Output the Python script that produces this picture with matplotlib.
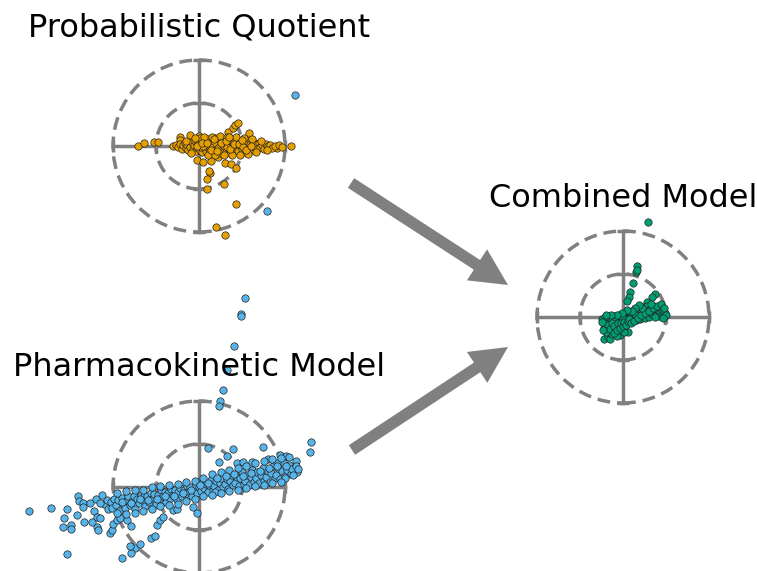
import matplotlib
matplotlib.use("Agg")
import matplotlib.pyplot as plt
from matplotlib.patches import Circle, FancyArrow

# ---------------- data ----------------
pq_x = [-1.43, -1.29, -1.04, -0.96, -0.60, -0.44, -0.44, -0.20, 0.01, 0.67, 0.80, 0.84, 0.91, 1.17,
        2.15, 1.81, -0.05, 0.10, 0.28, 0.45, 0.61, 0.74, 0.85, 0.26, 0.24, 0.19, 0.19, 0.58, 0.87, 0.39, 0.60,
        -0.53, -0.48, -0.45, -0.40, -0.38, -0.33, -0.30, -0.28, -0.25, -0.22, -0.20, -0.17, -0.15, -0.12,
        -0.10, -0.08, -0.05, -0.03, 0.00, 0.02, 0.05, 0.07, 0.08, 0.10, 0.12, 0.15, 0.17, 0.20, 0.22, 0.24,
        0.27, 0.30, 0.32, 0.35, 0.37, 0.40, 0.42, 0.45, 0.47, 0.50, 0.53, 0.55, 0.58, 0.60, 0.63, 0.65,
        0.68, 0.70, 0.73, 0.75, 0.78, 0.80, 0.83, 0.86, 0.88, 0.91, 0.94, 0.97, 1.00, 1.03, 1.06, 1.09,
        1.12, 1.15, 1.18, 1.22, 1.25, 1.28, 1.32, 1.35, 1.39, 1.43, 1.47, 1.51, 1.55, 1.60, 1.65, 1.70,
        1.76, 1.86, 1.92, 0.05, 0.15, 0.25, 0.35, 0.45, 0.55, 0.65, 0.25, 0.10, -0.05,
        0.02, 0.12, 0.20, 0.30, 0.38, 0.48, 0.57, 0.66, 0.76, 0.85, 0.95, 1.05, 1.14, 1.24, 1.33, 1.45,
        1.58, -0.10, -0.18, -0.30, 0.06, 0.18, 0.28, 0.42, 0.52, 0.62, 0.72, 0.82, 0.92, 1.02, 1.10, 1.20,
        0.34, 0.70, 1.00]
pq_y = [0.00, 0.06, 0.09, 0.10, 0.01, 0.20, 0.15, 0.26, 0.23, 0.33, 0.41, 0.49, 0.54, 0.31,
        0.00, -0.05, -0.33, -0.38, -0.36, -0.26, -0.39, -0.43, -0.50, -0.63, -0.58, -0.76, -0.99, -0.88, -1.36, -1.88, -2.07,
        0.02, -0.03, 0.05, -0.06, 0.02, 0.08, -0.04, 0.03, -0.10, 0.06, -0.02, 0.10, -0.07, 0.02,
        0.12, -0.12, 0.05, -0.04, 0.09, -0.09, 0.01, 0.14, -0.15, 0.05, -0.05, 0.10, -0.11, 0.02, 0.16, -0.08,
        0.07, -0.15, 0.12, -0.02, 0.18, -0.10, 0.05, 0.14, -0.17, 0.00, 0.10, -0.09, 0.17, 0.03, -0.13, 0.08,
        -0.04, 0.13, -0.16, 0.02, 0.09, -0.08, 0.15, -0.02, 0.06, -0.12, 0.10, 0.00, -0.08, 0.07, -0.15, 0.03,
        0.12, -0.05, 0.05, -0.10, 0.09, -0.02, 0.04, -0.08, 0.06, -0.03, 0.02, -0.06, 0.05, -0.01, 0.03, -0.04,
        0.01, 0.02, -0.02, -0.02, 0.00, 0.01, 0.06, -0.05, 0.02, -0.03, -0.03, -0.01, 0.00,
        0.18, 0.20, -0.20, 0.22, -0.22, 0.24, -0.20, 0.22, -0.22, 0.20, -0.20, 0.18, -0.18, 0.16, -0.14, 0.12,
        -0.10, 0.18, -0.16, 0.12, 0.08, 0.06, -0.10, -0.12, 0.06, 0.12, -0.08, 0.04, 0.05, -0.03, -0.10, 0.00,
        0.16, 0.20, 0.14]

pk_x = [-2.20, -2.15, -2.12, -2.05, -2.02, -1.98, -1.92, -1.88, -1.85, -1.80, -1.76, -1.72,
        -1.68, -1.64, -1.60, -1.55, -1.52, -1.48, -1.44, -1.40, -1.36, -1.32, -1.28, -1.25,
        -1.20, -1.16, -1.12, -1.08, -1.04, -1.00, -0.96, -0.92, -0.88, -0.84, -0.80, -0.76,
        -0.72, -0.68, -0.64, -0.60, -0.56, -0.52, -0.48, -0.44, -0.40, -0.36, -0.32, -0.28,
        -0.24, -0.20, -0.16, -0.12, -0.08, -0.04, 0.00, 0.04, 0.08, 0.12, 0.16, 0.20,
        0.24, 0.28, 0.32, 0.36, 0.40, 0.44, 0.48, 0.52, 0.56, 0.60, 0.64, 0.68,
        0.72, 0.76, 0.80, 0.84, 0.88, 0.92, 0.96, 1.00, 1.04, 1.08, 1.12, 1.16,
        1.20, 1.24, 1.28, 1.32, 1.36, 1.40, 1.44, 1.48, 1.52, 1.56, 1.60, 1.64,
        1.68, 1.72, 1.76, 1.80, 1.84, 1.88, 1.92, 1.96, 2.00, 2.05, 2.10, 2.15,
        2.20, 2.25, 2.28,
        0.22, 0.80, 0.47, 0.66, 1.48, 1.88, 2.02, 1.61, 1.81, 2.16, 2.19, 2.00, 0.88, 1.03, 1.23,
        2.60, 2.58, 0.37,
        -3.95, -3.44, -3.08, -3.13, -3.16, -2.98, -2.98, -2.84, -2.81, -2.78, -2.69, -2.69, -2.67,
        -2.53, -2.49, -2.44, -2.37, -2.30, -2.37, -2.34, -2.26, -2.40, -2.30, -3.06, -2.07, -2.03,
        -1.99, -1.80, -1.91, -1.84, -1.67, -1.58, -1.49, -1.57, -1.60, -1.37, -1.12, -1.02, -0.98,
        -0.91, -0.83, -0.60, -0.52, -0.13, -0.05,
        1.08, 0.98, 0.97, 0.81, 0.66, 0.55, 0.49, 0.46, 2.24, 1.57,
        -1.90, -1.70, -1.50, -1.30, -1.10, -0.90, -0.70, -0.50, -0.30, -0.10, 0.10, 0.30, 0.50, 0.70,
        0.90, 1.10, 1.30, 1.50, 1.70, 1.90,
        -1.90, -1.70, -1.50, -1.30, -1.10, -0.90, -0.70, -0.50, -0.30, -0.10, 0.10, 0.30, 0.50, 0.70,
        0.90, 1.10, 1.30, 1.50, 1.70, 1.90, 2.10, 2.25, 2.30,
        -1.78, -1.58, -1.38, -1.18, -0.98, -0.78, -0.58, -0.38, -0.18, 0.02, 0.22, 0.42, 0.62, 0.82,
        1.02, 1.22, 1.42, 1.62, 1.82, 2.02]
pk_y = [-0.40, -0.30, -0.52, -0.35, -0.48, -0.28, -0.42, -0.30, -0.55, -0.25, -0.40, -0.48,
        -0.30, -0.20, -0.42, -0.33, -0.22, -0.50, -0.27, -0.38, -0.18, -0.30, -0.20, -0.45,
        -0.22, -0.35, -0.14, -0.26, -0.16, -0.40, -0.18, -0.28, -0.08, -0.22, -0.12, -0.35,
        -0.14, -0.25, -0.05, -0.18, -0.08, -0.30, -0.12, -0.02, -0.22, -0.06, -0.16, 0.02,
        -0.10, -0.01, -0.20, -0.06, 0.04, -0.14, 0.00, -0.10, 0.10, -0.03, 0.08, -0.12,
        0.05, 0.16, -0.06, 0.02, 0.14, -0.08, 0.10, 0.22, 0.00, 0.06, 0.18, -0.04,
        0.15, 0.28, 0.05, 0.10, 0.24, 0.02, 0.20, 0.34, 0.08, 0.15, 0.28, 0.05,
        0.24, 0.40, 0.12, 0.20, 0.34, 0.10, 0.28, 0.45, 0.15, 0.24, 0.38, 0.12,
        0.32, 0.50, 0.20, 0.28, 0.44, 0.18, 0.38, 0.58, 0.26, 0.40, 0.52, 0.30,
        0.45, 0.60, 0.36,
        0.90, 0.88, 0.57, 0.72, 0.92, 0.74, 0.72, 0.64, 0.55, 0.43, 0.28, 0.20, 0.55, 0.59, 0.59,
        1.05, 0.82, -0.11,
        -0.55, -0.48, -0.52, -0.73, -0.94, -0.88, -0.98, -0.65, -0.21, -0.32, -0.38, -0.46, -0.81,
        -0.37, -0.81, -0.55, -0.69, -0.73, -0.94, -1.00, -0.19, -0.29, -0.37, -1.56, -1.06, -1.00,
        -0.85, -1.66, -0.77, -0.73, -0.77, -0.91, -1.41, -1.54, -1.37, -1.33, -1.19, -1.14, -0.89,
        -0.77, -0.69, -0.53, -0.50, -0.46, -0.61,
        4.39, 4.03, 3.97, 3.28, 2.72, 2.26, 2.00, 1.88, 9.12, 6.43,
        -0.60, -0.62, -0.60, -0.55, -0.52, -0.45, -0.42, -0.40, -0.32, -0.28, -0.22, -0.18, -0.14, -0.10,
        -0.06, -0.02, 0.02, 0.05, 0.10, 0.12,
        -0.15, -0.10, -0.08, -0.06, 0.00, 0.02, 0.05, 0.08, 0.12, 0.15, 0.22, 0.30, 0.35, 0.40,
        0.45, 0.48, 0.55, 0.60, 0.65, 0.68, 0.70, 0.50, 0.42,
        -0.34, -0.38, -0.28, -0.30, -0.28, -0.20, -0.20, -0.14, -0.08, 0.05, 0.10, 0.20, 0.25, 0.30,
        0.25, 0.32, 0.38, 0.45, 0.50, 0.48]

cm_x = [0.59, 0.33, 0.30, 0.32, 0.23, 0.16, 0.15, 0.10, 0.74, 0.67, 0.55, -0.44, -0.34, -0.30, -0.07, 0.12,
        -0.48, -0.45, -0.42, -0.40, -0.38, -0.35, -0.33, -0.30, -0.28, -0.25, -0.22, -0.20, -0.18, -0.15,
        -0.12, -0.10, -0.08, -0.05, -0.03, 0.00, 0.02, 0.05, 0.08, 0.10, 0.12, 0.15, 0.18, 0.20, 0.22,
        0.25, 0.28, 0.30, 0.33, 0.36, 0.38, 0.40, 0.43, 0.46, 0.48, 0.50, 0.53, 0.56, 0.58, 0.60, 0.63,
        0.66, 0.68, 0.70, 0.73, 0.76, 0.78, 0.81, 0.84, 0.86, 0.89, 0.91, 0.94, 0.96, 0.98,
        -0.15, -0.05, 0.05, -0.10, 0.00, -0.20,
        -0.30, -0.25, -0.18, -0.10, -0.05, 0.05, 0.03, -0.15,
        -0.45, -0.40, -0.35, -0.30, -0.25, -0.22, -0.20, -0.15, -0.12, -0.08, -0.05, 0.00, 0.02, 0.08,
        0.12, 0.15, 0.18, 0.25, 0.30, 0.35, 0.42, 0.50, 0.60, 0.70, 0.80, 0.88, 0.95, 1.00, 0.92, 0.75,
        0.65, 0.45, 0.38, 0.28, 0.20, 0.10, -0.02, -0.15, -0.28, -0.40, -0.48, -0.46]
cm_y = [2.20, 1.19, 1.04, 1.10, 0.78, 0.57, 0.47, 0.38, 0.53, 0.46, 0.36, -0.52, -0.46, -0.38, -0.42, -0.34,
        -0.05, -0.15, 0.00, -0.25, -0.08, -0.32, -0.12, -0.02, -0.20, -0.08, -0.28, 0.02, -0.14, -0.05,
        -0.22, 0.04, -0.10, -0.02, -0.18, 0.06, -0.06, 0.02, -0.12, 0.08, -0.02, 0.12, 0.00, -0.10, 0.06,
        0.16, 0.02, -0.06, 0.10, 0.20, 0.04, -0.04, 0.14, 0.24, 0.06, -0.02, 0.16, 0.26, 0.08, 0.00, 0.18,
        0.10, 0.28, 0.04, 0.14, 0.22, 0.08, 0.16, 0.02, 0.12, 0.22, 0.08, 0.14, 0.02, 0.10,
        -0.12, -0.08, -0.04, -0.04, -0.02, -0.10,
        -0.50, -0.40, -0.35, -0.30, -0.25, -0.22, -0.35, -0.45,
        -0.25, -0.35, -0.18, -0.28, -0.15, -0.38, -0.22, -0.30, -0.15, -0.25, -0.15, -0.20, -0.12, -0.18,
        -0.10, -0.05, -0.15, -0.10, 0.05, -0.02, 0.04, 0.10, 0.14, 0.20, 0.26, 0.30, 0.22, 0.05, -0.02, 0.00,
        0.30, 0.20, 0.28, 0.22, 0.14, 0.16, 0.10, 0.05, 0.05, 0.04, -0.12, -0.30]

titles = ["Probabilistic Quotient", "Pharmacokinetic Model", "Combined Model"]
colors = ["#E69F00", "#56B4E9", "#009E73"]
ring_radii = [1, 2]
tick_vals = [-2, -1, 1, 2]

# ---------------- figure ----------------
W, H = 757, 571
fig = plt.figure(figsize=(W / 100, H / 100), dpi=100)

GRAY = "#808080"
unit = 43.0  # pixels per data unit


def panel(cx, cy, xs, ys, color):
    half = 2 * unit
    ax = fig.add_axes([(cx - half) / W, (H - cy - half) / H, 2 * half / W, 2 * half / H])
    ax.set_xlim(-2, 2)
    ax.set_ylim(-2, 2)
    ax.patch.set_alpha(0)
    for s in ("top", "right"):
        ax.spines[s].set_visible(False)
    for s in ("left", "bottom"):
        ax.spines[s].set_position("zero")
        ax.spines[s].set_color(GRAY)
        ax.spines[s].set_linewidth(2.5)
    ax.set_xticks(tick_vals)
    ax.set_yticks(tick_vals)
    ax.set_xticklabels([])
    ax.set_yticklabels([])
    ax.tick_params(direction="inout", length=8, width=2.5, color=GRAY)
    for r in ring_radii:
        ax.add_patch(Circle((0, 0), r, fill=False, ec=GRAY, lw=2.5,
                            ls=(0, (3.7, 2.0)), clip_on=False, zorder=2))
    ax.scatter(xs, ys, s=28, c=color, edgecolors="#222222", linewidths=0.5,
               clip_on=False, zorder=5)
    return ax


panel(199, 146, pq_x, pq_y, colors[0])
panel(199, 487, pk_x, pk_y, colors[1])
panel(623, 317, cm_x, cm_y, colors[2])

# titles
fig.text(199 / W, 1 - 37 / H, titles[0], ha="center", va="baseline", fontsize=23)
fig.text(199 / W, 1 - 376 / H, titles[1], ha="center", va="baseline", fontsize=23)
fig.text(623 / W, 1 - 207 / H, titles[2], ha="center", va="baseline", fontsize=23)

# arrows (in inches)
def arrow(x0, y0, x1, y1):
    a = FancyArrow(x0 / 100, (H - y0) / 100, (x1 - x0) / 100, -(y1 - y0) / 100,
                   width=0.115, head_width=0.37, head_length=0.37,
                   length_includes_head=True, color=GRAY, lw=0,
                   transform=fig.dpi_scale_trans)
    fig.add_artist(a)

arrow(351, 183, 508, 285)
arrow(352, 450, 508, 347)

fig.savefig("out.png", dpi=100)
